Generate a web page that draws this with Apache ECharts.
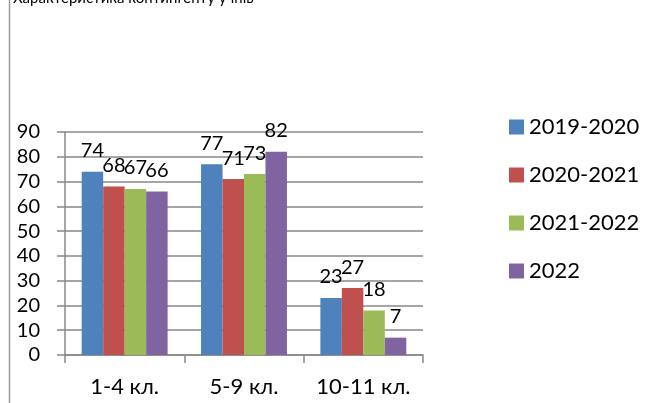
<!DOCTYPE html>
<html><head><meta charset="utf-8">
<script src="https://cdn.jsdelivr.net/npm/echarts@6/dist/echarts.min.js"></script>
<style>html,body{margin:0;padding:0;background:#fff}#c{width:659px;height:403px}</style>
</head><body><div id="c"></div>
<script>
var categories = ['1-4 кл.', '5-9 кл.', '10-11 кл.'];
var seriesNames = ['2019-2020', '2020-2021', '2021-2022', '2022'];
var s2019 = [74, 77, 23];
var s2020 = [68, 71, 27];
var s2021 = [67, 73, 18];
var s2022 = [66, 82, 7];
var colors = ['#4F81BD', '#C0504D', '#9BBB59', '#8064A2'];
var values = [s2019, s2020, s2021, s2022];
var FONT = 'Lato';

var chart = echarts.init(document.getElementById('c'));
chart.setOption({
  animation: false,
  textStyle: {fontFamily: FONT},
  graphic: [
    {type: 'line', shape: {x1: 9.5, y1: 0, x2: 9.5, y2: 403}, style: {stroke: '#9a9a9a', lineWidth: 1.5}},
    {type: 'text', left: 13, top: -9, style: {text: 'Характеристика контингенту учнів', font: '15px ' + FONT, fill: '#000'}}
  ],
  legend: {
    orient: 'vertical', left: 504, top: 111, itemWidth: 15, itemHeight: 15, itemGap: 26,
    icon: 'rect',
    textStyle: {fontSize: 22, lineHeight: 22, color: '#000', fontFamily: FONT},
    data: seriesNames
  },
  grid: {left: 65, right: 236, top: 132, bottom: 48},
  xAxis: {
    type: 'category', data: categories,
    axisLine: {lineStyle: {color: '#888', width: 1.5}},
    axisTick: {show: true, length: 8, lineStyle: {color: '#888', width: 1.5}},
    axisLabel: {interval: 0, fontSize: 22, color: '#000', margin: 21, fontFamily: FONT}
  },
  yAxis: {
    type: 'value', min: 0, max: 90, interval: 10,
    axisLine: {show: true, lineStyle: {color: '#888', width: 1.5}},
    axisTick: {show: true, length: 8, lineStyle: {color: '#888', width: 1.5}},
    splitLine: {lineStyle: {color: '#888', width: 1.5}},
    axisLabel: {fontSize: 20, color: '#000', margin: 25, fontFamily: FONT}
  },
  series: seriesNames.map(function (n, i) {
    return {
      name: n, type: 'bar', data: values[i], barGap: '0%', barCategoryGap: '28%',
      itemStyle: {color: colors[i]},
      label: {show: true, position: 'top', distance: 11, fontSize: 20, color: '#000', fontFamily: FONT}
    };
  })
});
</script></body></html>
